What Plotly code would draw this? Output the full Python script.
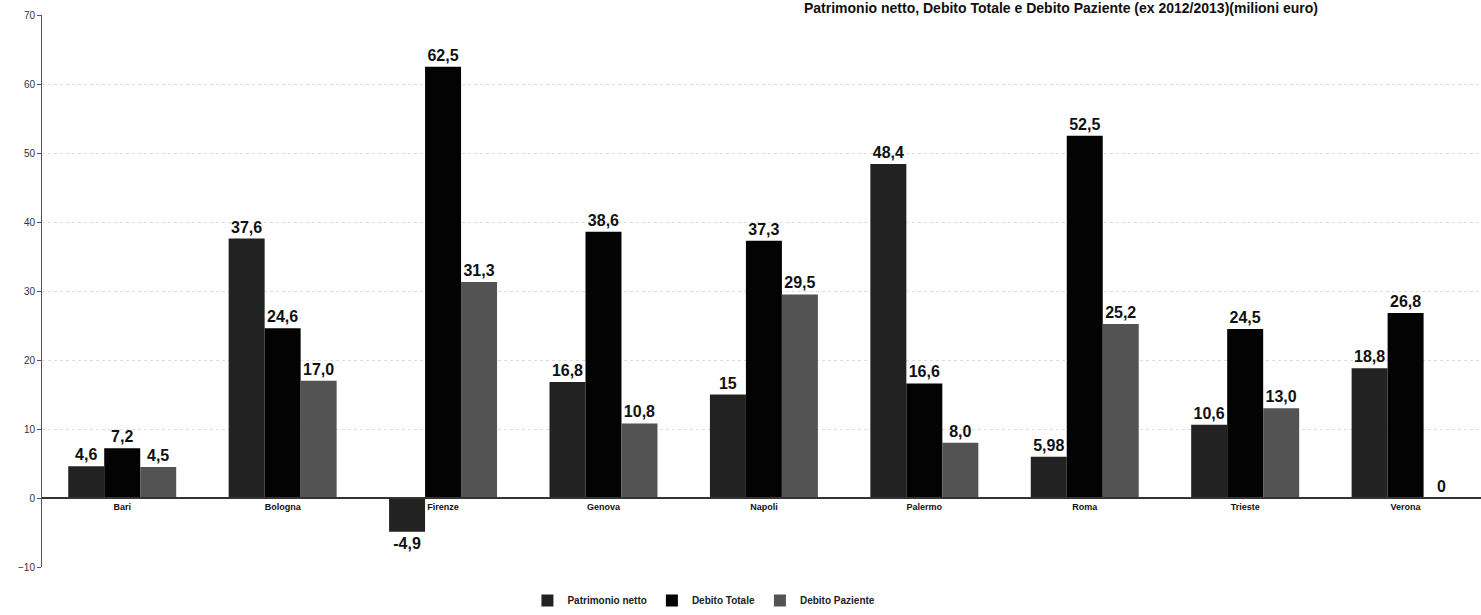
import plotly.graph_objects as go

cities = ["Bari", "Bologna", "Firenze", "Genova", "Napoli", "Palermo", "Roma", "Trieste", "Verona"]
patrimonio = [4.6, 37.6, -4.9, 16.8, 15, 48.4, 5.98, 10.6, 18.8]
debito_totale = [7.2, 24.6, 62.5, 38.6, 37.3, 16.6, 52.5, 24.5, 26.8]
debito_paziente = [4.5, 17.0, 31.3, 10.8, 29.5, 8.0, 25.2, 13.0, 0]
lbl_patrimonio = ["4,6", "37,6", "-4,9", "16,8", "15", "48,4", "5,98", "10,6", "18,8"]
lbl_totale = ["7,2", "24,6", "62,5", "38,6", "37,3", "16,6", "52,5", "24,5", "26,8"]
lbl_paziente = ["4,5", "17,0", "31,3", "10,8", "29,5", "8,0", "25,2", "13,0", "0"]
y_ticks = [-10, 0, 10, 20, 30, 40, 50, 60, 70]

title = "Patrimonio netto, Debito Totale e Debito Paziente (ex 2012/2013)(milioni euro)"

label_font = dict(family="Liberation Sans, Arial", size=16, color="#111111")

fig = go.Figure()
series = [
    ("Patrimonio netto", patrimonio, lbl_patrimonio, "#222222"),
    ("Debito Totale", debito_totale, lbl_totale, "#030303"),
    ("Debito Paziente", debito_paziente, lbl_paziente, "#535353"),
]
for name, vals, lbls, col in series:
    fig.add_trace(go.Bar(
        x=cities, y=vals, name="<b>%s</b>" % name,
        marker=dict(color=col, line=dict(width=0)),
        text=["<b>%s</b>" % t for t in lbls],
        textposition="outside", textfont=label_font,
        cliponaxis=False,
    ))

fig.update_layout(
    width=1481, height=615,
    margin=dict(l=42, r=0, t=15, b=47),
    paper_bgcolor="white", plot_bgcolor="white",
    barmode="group", bargap=0.327, bargroupgap=0,
    showlegend=True,
    legend=dict(orientation="h", x=0.46, xanchor="center", y=-0.06, yanchor="middle",
                font=dict(family="Liberation Sans, Arial", size=10, color="#222222"),
                traceorder="normal", itemwidth=30),
    font=dict(family="Liberation Sans, Arial"),
)
fig.add_annotation(
    text="<b>%s</b>" % title, xref="paper", yref="paper", x=0.888, y=1,
    xanchor="right", yanchor="bottom", yshift=-3, showarrow=False,
    font=dict(family="Liberation Sans, Arial", size=14, color="#111111"),
)
fig.update_yaxes(
    range=[-10, 70], tickvals=y_ticks, showgrid=True, gridcolor="#dddddd", griddash="dot",
    gridwidth=1, zeroline=False, showline=True, linecolor="#555555", linewidth=1,
    ticks="outside", ticklen=4, tickcolor="#555555",
    tickprefix="<b>", ticksuffix="</b>",
    tickfont=dict(family="Liberation Sans, Arial", size=10, color="#333333"),
)
fig.update_xaxes(
    range=[-0.5, 8.47], anchor="free", position=0.125, showline=True, linecolor="#333333",
    linewidth=2, ticks="", showgrid=False, zeroline=False,
    tickfont=dict(family="Liberation Sans, Arial", size=9, color="#111111"),
    tickprefix="<b>", ticksuffix="</b>",
)
fig.write_html("out.html")
